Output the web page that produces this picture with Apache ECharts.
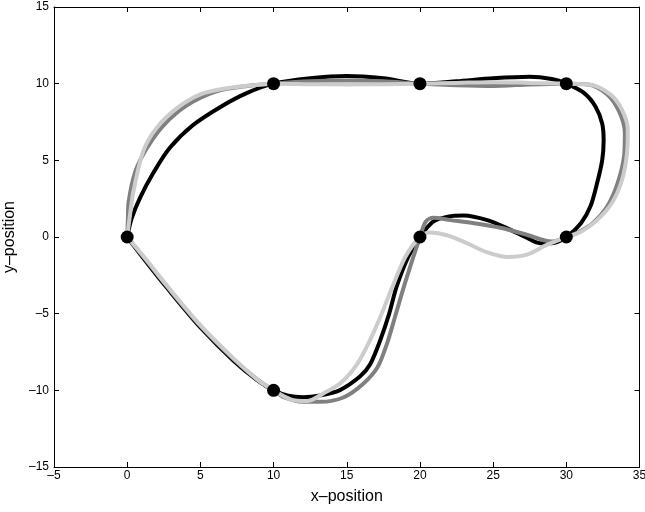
<!DOCTYPE html>
<html>
<head>
<meta charset="utf-8">
<script src="https://cdn.jsdelivr.net/npm/echarts@6/dist/echarts.min.js"></script>
<style>
  html, body { margin: 0; padding: 0; background: #fff; }
  #main { width: 645px; height: 512px; }
</style>
</head>
<body>
<div id="main"></div>
<script>
// knots the curves pass through
var knotX = [0, 10, 20, 30, 30, 20, 10];
var knotY = [0, 10, 10, 10, 0, 0, -10];

// curves, [x, y]
var blackCurve = [
  [0,0],[0.3,1.2],[0.9,2.6],[1.8,4.2],[2.9,5.8],[4.5,7.3],[6.4,8.5],[8.2,9.4],[10,10],
  [12.5,10.35],[15,10.5],[17.5,10.35],[20,10],
  [22.5,10.15],[25,10.35],[27.5,10.45],[29,10.3],[30,10],
  [31.2,9.4],[32,8.5],[32.45,7.4],[32.55,6.3],[32.45,5.0],[32.1,3.5],[31.65,2.0],[31,0.9],[30,0],
  [29,-0.4],[28.2,-0.4],[27.3,-0.05],[26,0.55],[24.6,1.1],[23,1.4],[21.9,1.33],[20.9,1.0],[20,0],
  [19.2,-1.3],[18.4,-3.25],[17.9,-5.0],[17.3,-6.7],[16.6,-8.3],[15.9,-9.1],[14.5,-10.0],[13.2,-10.33],[12,-10.45],[11,-10.35],[10,-10],
  [8.9,-9.35],[7.3,-8.1],[5,-5.9],[2.7,-3.3],[1.2,-1.5],[0,0]
];

var darkCurve = [
  [0,0],[0.05,1.2],[0.1,2.3],[0.55,4.25],[1.35,5.8],[2.5,7.3],[4.1,8.6],[6.1,9.5],[8.2,9.85],[10,10],
  [12.5,10.15],[15,10.2],[17.5,10.15],[20,10],
  [22.5,9.9],[25,9.85],[27.5,9.95],[30,10],
  [31.5,9.95],[32.8,9.3],[33.6,8.2],[34.0,6.8],[33.95,5.3],[33.5,3.5],[32.8,2.0],[31.8,0.9],[30.8,0.3],[30,0],
  [29,-0.3],[27.3,0.15],[25.5,0.6],[23.7,0.9],[22.1,1.1],[20.9,1.25],[20.4,1.0],[20,0],
  [19.55,-1.3],[18.9,-3.25],[18.3,-5.2],[17.75,-6.95],[17.1,-8.5],[16.15,-9.55],[14.8,-10.45],[13.2,-10.75],[12,-10.75],[10.7,-10.45],[10,-10],
  [8.9,-9.3],[7.3,-8.0],[5,-5.8],[2.7,-3.2],[1.2,-1.4],[0,0]
];

var lightCurve = [
  [0,0],[0.2,1.5],[0.43,3.0],[1.1,5.6],[2.0,7.1],[3.4,8.4],[5,9.3],[6.8,9.7],[8.6,9.9],[10,10],
  [12.5,9.97],[15,9.95],[17.5,9.97],[20,10],
  [22.5,10.05],[25,10.1],[27.5,10.05],[30,10],
  [31.65,9.93],[33,9.3],[33.8,8.3],[34.2,7.0],[34.15,5.5],[33.8,3.7],[33.1,2.2],[32.1,1.1],[31,0.35],[30,0],
  [28.7,-0.5],[27.3,-1.15],[26,-1.3],[24.6,-1.0],[23.2,-0.4],[21.9,0.1],[20.7,0.3],[20,0],
  [19,-1.3],[18.1,-3.3],[17.3,-5.2],[16.6,-6.7],[15.7,-8.3],[14.6,-9.5],[13.4,-10.2],[12.3,-10.7],[11.2,-10.6],[10,-10],
  [8.9,-9.3],[7.3,-7.95],[5,-5.75],[2.7,-3.15],[1.2,-1.35],[0,0]
];

var knots = [];
for (var i = 0; i < knotX.length; i++) {
  knots.push([knotX[i], knotY[i]]);
}

var fontFam = '"Liberation Sans", Arial, sans-serif';
var dash = function (v) { return String(v).replace('-', '\u2013'); };

var tickStyle = { show: true, inside: true, length: 5, lineStyle: { color: '#000', width: 1 } };
var lineStyle = { show: true, onZero: false, lineStyle: { color: '#000', width: 1 } };

function curve(data, color) {
  return {
    type: 'line',
    data: data,
    smooth: 0.3,
    showSymbol: false,
    symbol: 'none',
    lineStyle: { color: color, width: 4 },
    z: 2
  };
}

var chart = echarts.init(document.getElementById('main'));
chart.setOption({
  animation: false,
  grid: { left: 54, right: 5.5, top: 7, bottom: 45, containLabel: false, outerBoundsMode: 'none' },
  xAxis: [
    {
      type: 'value', min: -5, max: 35, interval: 5,
      name: 'x\u2013position', nameLocation: 'middle', nameGap: 22,
      nameTextStyle: { fontFamily: fontFam, fontSize: 16, color: '#000' },
      axisLine: lineStyle, axisTick: tickStyle, splitLine: { show: false },
      axisLabel: { fontFamily: fontFam, fontSize: 12, color: '#000', margin: 3, formatter: dash }
    },
    {
      type: 'value', min: -5, max: 35, interval: 5, position: 'top',
      axisLine: lineStyle, axisTick: tickStyle, splitLine: { show: false },
      axisLabel: { show: false }
    }
  ],
  yAxis: [
    {
      type: 'value', min: -15, max: 15, interval: 5,
      name: 'y\u2013position', nameLocation: 'middle', nameGap: 32,
      nameTextStyle: { fontFamily: fontFam, fontSize: 16, color: '#000' },
      axisLine: lineStyle, axisTick: tickStyle, splitLine: { show: false },
      axisLabel: { fontFamily: fontFam, fontSize: 12, color: '#000', margin: 5, formatter: dash }
    },
    {
      type: 'value', min: -15, max: 15, interval: 5, position: 'right',
      axisLine: lineStyle, axisTick: tickStyle, splitLine: { show: false },
      axisLabel: { show: false }
    }
  ],
  series: [
    curve(blackCurve, '#000000'),
    curve(darkCurve, '#808080'),
    curve(lightCurve, '#cccccc'),
    {
      type: 'scatter',
      data: knots,
      symbol: 'circle',
      symbolSize: 13,
      itemStyle: { color: '#000', opacity: 1 },
      z: 5
    }
  ]
});
</script>
</body>
</html>
